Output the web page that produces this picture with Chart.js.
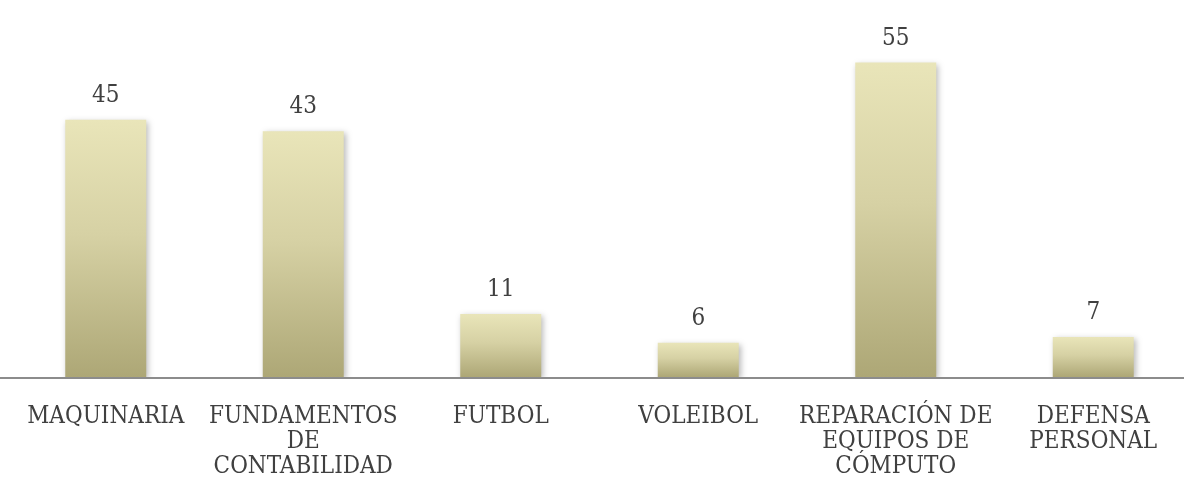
<!DOCTYPE html>
<html><head><meta charset="utf-8">
<script src="https://cdn.jsdelivr.net/npm/chart.js@4/dist/chart.umd.min.js"></script>
<style>
html,body{margin:0;padding:0;background:#fff;overflow:hidden;}
#wrap{width:1192px;height:485px;position:relative;}
</style></head><body>
<div id="wrap"><canvas id="c"></canvas></div>
<script>
const categories = [
  ["MAQUINARIA"],
  ["FUNDAMENTOS","DE","CONTABILIDAD"],
  ["FUTBOL"],
  ["VOLEIBOL"],
  ["REPARACIÓN DE","EQUIPOS DE","CÓMPUTO"],
  ["DEFENSA","PERSONAL"]
];
const values = [45, 43, 11, 6, 55, 7];

const FONT = "'DejaVu Serif Condensed', 'Liberation Serif', serif";

function barGradient(ctx) {
  const chart = ctx.chart;
  const ys = chart.scales && chart.scales.y;
  if (!chart.chartArea || !ys || ctx.parsed == null) return '#D3CE9E';
  const top = ys.getPixelForValue(ctx.parsed.y);
  const bottom = ys.getPixelForValue(0);
  const g = chart.ctx.createLinearGradient(0, top, 0, bottom);
  g.addColorStop(0, '#E9E5B9');
  g.addColorStop(0.45, '#D6D1A4');
  g.addColorStop(1, '#ADA776');
  return g;
}

const valueLabels = {
  id: 'valueLabels',
  beforeDatasetsDraw(chart) {
    const c = chart.ctx;
    c.save();
    c.shadowColor = 'rgba(0,0,0,0.28)';
    c.shadowBlur = 6;
    c.shadowOffsetX = 2;
    c.shadowOffsetY = 2;
  },
  afterDatasetsDraw(chart) {
    const c = chart.ctx;
    c.restore();
    const ys = chart.scales.y;
    c.save();
    c.strokeStyle = '#8C8C8C';
    c.lineWidth = 2;
    c.beginPath();
    const yb = Math.round(ys.getPixelForValue(0)) + 1;
    c.moveTo(0, yb);
    c.lineTo(chart.width, yb);
    c.stroke();
    c.fillStyle = '#404040';
    c.font = "24px " + FONT;
    c.textAlign = 'center';
    c.textBaseline = 'alphabetic';
    const meta = chart.getDatasetMeta(0);
    meta.data.forEach((bar, i) => {
      c.fillText(String(values[i]), bar.x, bar.y - 18);
    });
    c.restore();
  }
};

new Chart(document.getElementById('c'), {
  type: 'bar',
  data: {
    labels: categories,
    datasets: [{
      data: values,
      backgroundColor: barGradient,
      borderWidth: 0,
      categoryPercentage: 1,
      barPercentage: 0.41
    }]
  },
  options: {
    responsive: true,
    maintainAspectRatio: false,
    animation: false,
    layout: { padding: { left: 7, right: 0, top: 34, bottom: 0 } },
    plugins: { legend: { display: false }, tooltip: { enabled: false } },
    scales: {
      x: {
        grid: { display: false },
        border: { display: false },
        afterFit(s) { s.height = 108; },
        ticks: {
          color: '#404040',
          font: { family: FONT, size: 24, lineHeight: '25px' },
          padding: 19,
          maxRotation: 0,
          autoSkip: false
        }
      },
      y: {
        display: false,
        min: 0,
        max: 60
      }
    }
  },
  plugins: [valueLabels]
});
</script>
</body></html>
